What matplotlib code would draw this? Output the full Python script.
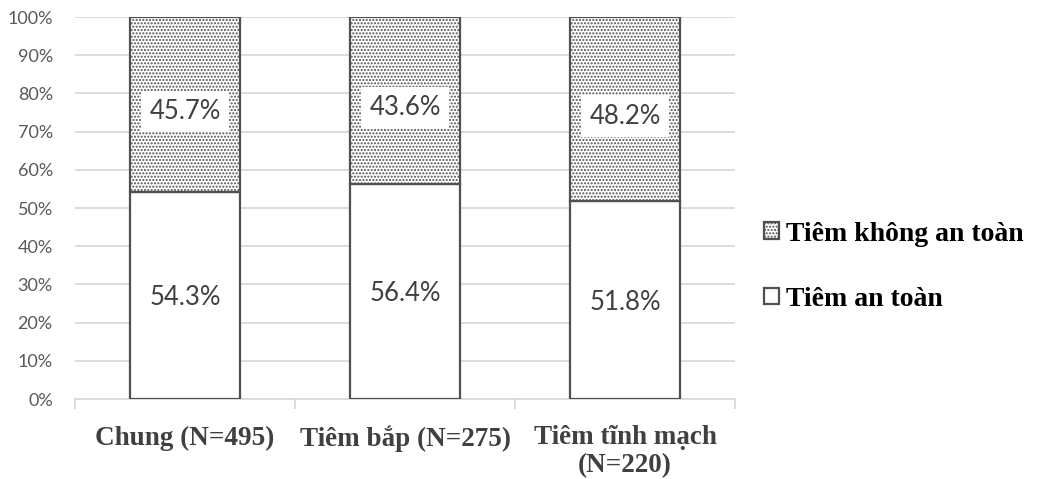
import matplotlib.pyplot as plt
import numpy as np

categories = ['Chung (N=495)', 'Tiêm bắp (N=275)', 'Tiêm tĩnh mạch\n(N=220)']
safe = [54.3, 56.4, 51.8]
unsafe = [45.7, 43.6, 48.2]
series_names = ['Tiêm an toàn', 'Tiêm không an toàn']
yticks = [0, 10, 20, 30, 40, 50, 60, 70, 80, 90, 100]

plt.rcParams['hatch.color'] = '#222222'
plt.rcParams['hatch.linewidth'] = 1.0

fig = plt.figure(figsize=(10.38, 4.79), dpi=100)
ax = fig.add_axes([0.0723, 0.167, 0.636, 0.7975])

x = np.arange(len(categories))
edge = '#505050'
b1 = ax.bar(x, safe, width=0.5, color='white', edgecolor=edge, linewidth=1.6,
            label=series_names[0], zorder=3)
b2 = ax.bar(x, unsafe, width=0.5, bottom=safe, color='white', edgecolor=edge,
            linewidth=1.6, hatch='.....', label=series_names[1], zorder=3)

lab_font = 'Lato'
for i in range(len(categories)):
    ax.text(x[i], safe[i] / 2, f'{safe[i]:.1f}%', ha='center', va='center_baseline',
            fontsize=18.5, color='#404040', family=lab_font, zorder=5,
            bbox=dict(facecolor='white', edgecolor='none', pad=6))
    ax.text(x[i], safe[i] + unsafe[i] / 2 - 1.2, f'{unsafe[i]:.1f}%', ha='center',
            va='center_baseline', fontsize=18.5, color='#404040', family=lab_font,
            zorder=5, bbox=dict(facecolor='white', edgecolor='none', pad=6))

ax.set_ylim(0, 100)
ax.set_xlim(-0.5, 2.5)
ax.set_yticks(yticks)
ax.set_yticklabels([f'{t}%' for t in yticks], family=lab_font, fontsize=13,
                   color='#595959')
ax.yaxis.grid(True, color='#d9d9d9', linewidth=1.3, zorder=0)
ax.tick_params(axis='y', length=0, pad=16)

ax.set_xticks(x)
ax.set_xticklabels(categories, family='Liberation Serif', fontweight='bold',
                   fontsize=19.5, color='#404040', linespacing=1.15)
ax.set_xticks([-0.5, 0.5, 1.5, 2.5], minor=True)
ax.tick_params(axis='x', which='major', length=0, pad=19)
ax.tick_params(axis='x', which='minor', length=7, color='#d9d9d9', width=1.3)

for s in ['top', 'right', 'left']:
    ax.spines[s].set_visible(False)
ax.spines['bottom'].set_color('#d9d9d9')
ax.spines['bottom'].set_linewidth(1.3)

leg = fig.legend(handles=[b2, b1], labels=[series_names[1], series_names[0]],
                 loc='center left', bbox_to_anchor=(0.712, 0.443), frameon=False,
                 prop={'family': 'Liberation Serif', 'weight': 'bold', 'size': 20},
                 handlelength=0.55, handleheight=0.55, handletextpad=0.25,
                 labelspacing=1.45)

fig.savefig('out.png', dpi=100)
